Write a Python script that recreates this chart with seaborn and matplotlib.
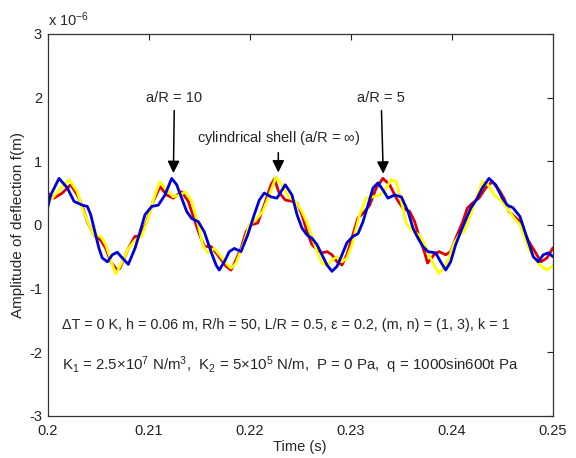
import numpy as np
import pandas as pd
import matplotlib
matplotlib.use("Agg")
import matplotlib.pyplot as plt
import seaborn as sns

# deflection amplitude, (time [s], f [x1e-6 m])
blue_aR10 = [(0.2000, 0.26), (0.20032, 0.47), (0.20114, 0.73), (0.20196, 0.58), (0.20262, 0.37),
             (0.20344, 0.31), (0.20394, 0.29), (0.20427, 0.16), (0.20460, -0.05), (0.20509, -0.37),
             (0.20542, -0.52), (0.20592, -0.58), (0.20641, -0.47), (0.20690, -0.43), (0.20740, -0.52),
             (0.20799, -0.62), (0.20865, -0.37), (0.20915, -0.11), (0.20964, 0.16), (0.21031, 0.29),
             (0.21096, 0.31), (0.21162, 0.47), (0.21228, 0.73), (0.21278, 0.63), (0.21327, 0.42),
             (0.21377, 0.21), (0.21426, 0.10), (0.21492, 0.05), (0.21551, -0.11), (0.21617, -0.42),
             (0.21667, -0.63), (0.21699, -0.71), (0.21749, -0.58), (0.21798, -0.42), (0.21848, -0.37),
             (0.21914, -0.42), (0.21980, -0.16), (0.22045, 0.16), (0.22095, 0.39), (0.22144, 0.50),
             (0.22211, 0.44), (0.22270, 0.42), (0.22352, 0.63), (0.22418, 0.47), (0.22468, 0.16),
             (0.22517, -0.05), (0.22567, -0.16), (0.22616, -0.21), (0.22666, -0.31), (0.22715, -0.47),
             (0.22765, -0.63), (0.22814, -0.73), (0.22864, -0.65), (0.22913, -0.47), (0.22962, -0.28),
             (0.23022, -0.18), (0.23071, -0.14), (0.23121, 0.05), (0.23170, 0.31), (0.23220, 0.58),
             (0.23269, 0.66), (0.23318, 0.55), (0.23368, 0.42), (0.23434, 0.47), (0.23500, 0.44),
             (0.23566, 0.21), (0.23615, -0.05), (0.23665, -0.21), (0.23714, -0.34), (0.23764, -0.42),
             (0.23840, -0.44), (0.23889, -0.58), (0.23939, -0.71), (0.23988, -0.58), (0.24038, -0.31),
             (0.24087, -0.11), (0.24137, 0.08), (0.24186, 0.26), (0.24251, 0.42), (0.24301, 0.58),
             (0.24367, 0.73), (0.24433, 0.63), (0.24499, 0.42), (0.24548, 0.31), (0.24604, 0.27),
             (0.24674, 0.13), (0.24740, -0.19), (0.24805, -0.50), (0.24855, -0.58), (0.24904, -0.47),
             (0.24954, -0.44), (0.2500, -0.50)]

red_aR5 = [(0.2000, 0.50), (0.20064, 0.42), (0.20146, 0.50), (0.20229, 0.63), (0.20295, 0.47),
           (0.20344, 0.29), (0.20394, 0.05), (0.20460, -0.16), (0.20526, -0.24), (0.20576, -0.37),
           (0.20625, -0.58), (0.20687, -0.71), (0.20717, -0.68), (0.20799, -0.37), (0.20865, -0.18),
           (0.20915, -0.18), (0.20981, 0.05), (0.21046, 0.37), (0.21113, 0.60), (0.21179, 0.47),
           (0.21244, 0.42), (0.21327, 0.52), (0.21393, 0.37), (0.21459, 0.05), (0.21508, -0.17),
           (0.21551, -0.34), (0.21617, -0.34), (0.21683, -0.47), (0.21766, -0.65), (0.21815, -0.71),
           (0.21865, -0.55), (0.21914, -0.37), (0.21963, -0.11), (0.22013, 0.00), (0.22079, 0.03),
           (0.22144, 0.31), (0.22211, 0.63), (0.22245, 0.72), (0.22287, 0.52), (0.22352, 0.39),
           (0.22418, 0.37), (0.22468, 0.34), (0.22517, 0.16), (0.22567, -0.11), (0.22616, -0.31),
           (0.22666, -0.39), (0.22715, -0.44), (0.22765, -0.42), (0.22814, -0.47), (0.22864, -0.58),
           (0.22913, -0.63), (0.22962, -0.47), (0.23012, -0.20), (0.23071, 0.11), (0.23121, 0.18),
           (0.23187, 0.31), (0.23252, 0.58), (0.23318, 0.73), (0.23385, 0.63), (0.23450, 0.42),
           (0.23516, 0.26), (0.23583, 0.21), (0.23632, 0.05), (0.23682, -0.21), (0.23731, -0.44),
           (0.23759, -0.60), (0.23823, -0.47), (0.23873, -0.42), (0.23939, -0.47), (0.23988, -0.42),
           (0.24038, -0.21), (0.24103, 0.03), (0.24152, 0.26), (0.24202, 0.34), (0.24268, 0.42),
           (0.24334, 0.58), (0.24400, 0.68), (0.24466, 0.55), (0.24515, 0.42), (0.24565, 0.21),
           (0.24674, 0.05), (0.24753, -0.24), (0.24822, -0.42), (0.24881, -0.58), (0.24941, -0.52),
           (0.2500, -0.36)]

yellow_cyl = [(0.2000, 0.44), (0.20047, 0.42), (0.20131, 0.58), (0.20213, 0.71), (0.20295, 0.52),
              (0.20344, 0.26), (0.20410, 0.00), (0.20460, -0.16), (0.20526, -0.18), (0.20576, -0.31),
              (0.20641, -0.63), (0.20678, -0.77), (0.20740, -0.58), (0.20799, -0.37), (0.20865, -0.24),
              (0.20932, -0.18), (0.20997, 0.11), (0.21063, 0.47), (0.21113, 0.68), (0.21179, 0.55),
              (0.21244, 0.44), (0.21311, 0.47), (0.21360, 0.52), (0.21426, 0.37), (0.21492, 0.00),
              (0.21535, -0.31), (0.21585, -0.44), (0.21650, -0.37), (0.21716, -0.50), (0.21782, -0.63),
              (0.21815, -0.68), (0.21865, -0.60), (0.21947, -0.26), (0.21996, 0.00), (0.22062, 0.08),
              (0.22129, 0.21), (0.22194, 0.47), (0.22260, 0.75), (0.22319, 0.63), (0.22386, 0.44),
              (0.22451, 0.37), (0.22517, 0.21), (0.22567, 0.03), (0.22616, -0.18), (0.22666, -0.42),
              (0.22715, -0.60), (0.22765, -0.64), (0.22814, -0.55), (0.22864, -0.50), (0.22913, -0.58),
              (0.22962, -0.52), (0.23012, -0.31), (0.23088, 0.16), (0.23153, 0.42), (0.23220, 0.44),
              (0.23286, 0.47), (0.23351, 0.58), (0.23401, 0.71), (0.23450, 0.68), (0.23500, 0.37),
              (0.23549, 0.03), (0.23615, -0.11), (0.23682, -0.16), (0.23731, -0.31), (0.23764, -0.44),
              (0.23823, -0.63), (0.23873, -0.76), (0.23922, -0.68), (0.23972, -0.52), (0.24021, -0.29),
              (0.24071, -0.16), (0.24120, -0.11), (0.24186, 0.16), (0.24251, 0.47), (0.24301, 0.68),
              (0.24350, 0.65), (0.24417, 0.47), (0.24483, 0.39), (0.24548, 0.26), (0.24614, 0.11),
              (0.24674, 0.00), (0.24773, -0.42), (0.24871, -0.63), (0.24941, -0.71), (0.2500, -0.64)]

series = {"a/R = 5": red_aR5, "cylindrical": yellow_cyl, "a/R = 10": blue_aR10}
colors = {"a/R = 5": "#e00000", "cylindrical": "#ffff00", "a/R = 10": "#0000d8"}

xticks = [0.2, 0.21, 0.22, 0.23, 0.24, 0.25]
xtick_labels = ["0.2", "0.21", "0.22", "0.23", "0.24", "0.25"]
yticks = [-3, -2, -1, 0, 1, 2, 3]

rows = []
for name, pts in series.items():
    for t, f in pts:
        rows.append({"t": t, "f": f, "case": name})
df = pd.DataFrame(rows)

sns.set_style("white")
plt.rcParams["font.family"] = ["Liberation Sans", "DejaVu Sans"]
plt.rcParams["mathtext.default"] = "regular"
plt.rcParams["lines.solid_joinstyle"] = "round"
plt.rcParams["lines.solid_capstyle"] = "round"

fig = plt.figure(figsize=(5.76, 4.58), dpi=100)
ax = fig.add_axes([0.0825, 0.092, 0.8775, 0.834])

sns.lineplot(data=df, x="t", y="f", hue="case", hue_order=list(series.keys()),
             palette=colors, sort=False, estimator=None, units="case", lw=2.0,
             legend=False, ax=ax)

ax.set_xlim(0.2, 0.25)
ax.set_ylim(-3, 3)
ax.set_xticks(xticks)
ax.set_xticklabels(xtick_labels)
ax.set_yticks(yticks)
ax.set_yticklabels([str(v) for v in yticks])
ax.tick_params(direction="in", length=4, width=0.8, top=True, right=True,
               labelsize=10.5, colors="#222222")
ax.tick_params(axis="x", pad=6)
ax.tick_params(axis="y", pad=4)
for s in ax.spines.values():
    s.set_color("#333333")
    s.set_linewidth(0.9)
ax.set_xlabel("Time (s)", fontsize=10.5, labelpad=1)
ax.set_ylabel("Amplitude of deflection f(m)", fontsize=11, labelpad=3)
ax.text(0.0, 1.012, r"x 10$^{-6}$", transform=ax.transAxes, fontsize=10.5,
        ha="left", va="bottom")

arrow = dict(arrowstyle="-|>", color="black", lw=1.1, mutation_scale=18)
ax.annotate("a/R = 10", xy=(0.21245, 0.77), xytext=(0.21255, 2.0),
            ha="center", va="center", fontsize=10.5, arrowprops=arrow)
ax.annotate(r"cylindrical shell (a/R = $\infty$)", xy=(0.22283, 0.78), xytext=(0.22283, 1.37),
            ha="center", va="center", fontsize=10.5, arrowprops=arrow)
ax.annotate("a/R = 5", xy=(0.23322, 0.76), xytext=(0.23300, 2.0),
            ha="center", va="center", fontsize=10.5, arrowprops=arrow)

ax.text(0.2014, -1.57, "ΔT = 0 K, h = 0.06 m, R/h = 50, L/R = 0.5, ε = 0.2, (m, n) = (1, 3), k = 1",
        fontsize=10.4, ha="left", va="center")
ax.text(0.2014, -2.20, r"K$_1$ = 2.5×10$^7$ N/m$^3$,  K$_2$ = 5×10$^5$ N/m,  P = 0 Pa,  q = 1000sin600t Pa",
        fontsize=10.8, ha="left", va="center")

fig.savefig("out.png", dpi=100, facecolor="white")
